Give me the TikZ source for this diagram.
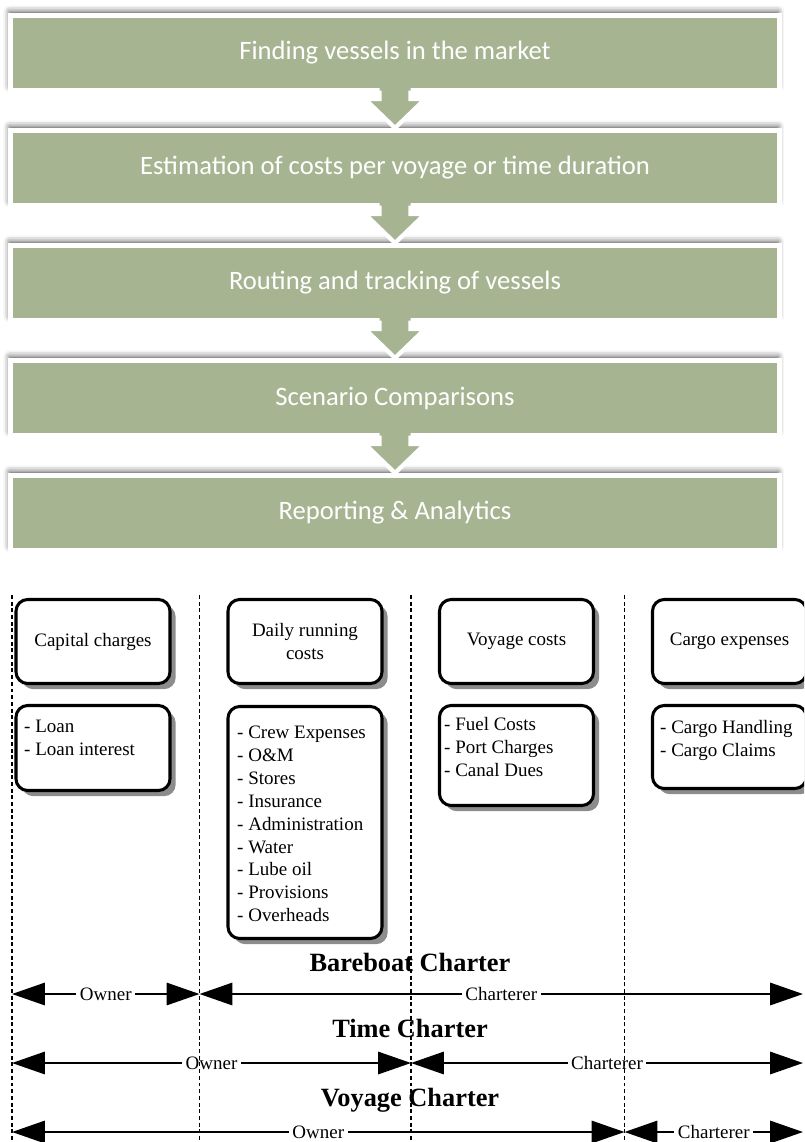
\documentclass[tikz,border=0pt]{standalone}
\usepackage{fontspec}
\setmainfont{Liberation Serif}
\newfontfamily\calibri{Carlito}
\usepackage{tikz}
\usetikzlibrary{arrows.meta,shadows,shadows.blur,calc}

\definecolor{stagegreen}{RGB}{166,180,146}

\tikzset{
  stage/.style={rectangle, fill=stagegreen, draw=white, line width=4.3pt,
    minimum width=23.07cm, minimum height=2.25cm, text=white,
    font=\calibri\fontsize{22.7}{27}\selectfont,
    blur shadow={shadow xshift=-1pt, shadow yshift=3.5pt, shadow blur radius=5pt, shadow opacity=65}},
  costhead/.style={rectangle, rounded corners=0.35cm, draw, fill=white, line width=2.6pt,
    minimum width=4.62cm, minimum height=2.52cm, align=center,
    font=\fontsize{16.2}{19.5}\selectfont,
    drop shadow={shadow xshift=0.17cm, shadow yshift=-0.17cm, fill=black!45, opacity=1}},
  costlist/.style={costhead},
  listtext/.style={anchor=north west, inner sep=0pt, align=left,
    font=\fontsize{16.2}{19.5}\selectfont},
  chartertitle/.style={font=\bfseries\fontsize{22.5}{26}\selectfont},
  party/.style={line width=1.8pt,
    {Triangle[length=28pt,width=19pt]}-{Triangle[length=28pt,width=19pt]}},
  partylabel/.style={fill=white, inner xsep=3pt, inner ysep=1pt,
    font=\fontsize{16.2}{19.5}\selectfont},
  divider/.style={line width=1.5pt, dash pattern=on 3.4pt off 2.3pt}
}

% green arrow between two stages
\newcommand{\stagearrow}[2]{%
  \fill[stagegreen] ($(#1.south)+(-15.5,-7)$) -- ($(#1.south)+(-15.5,6)$) -- ($(#1.south)+(-30,6)$)
    -- (#2.north) -- ($(#1.south)+(30,6)$) -- ($(#1.south)+(15.5,6)$) -- ($(#1.south)+(15.5,-7)$) -- cycle;
  \draw[white, line width=3.6pt, line join=miter] ($(#1.south)+(-15.5,-2.5)$) -- ($(#1.south)+(-15.5,6)$)
    -- ($(#1.south)+(-30,6)$) -- (#2.north) -- ($(#1.south)+(30,6)$) -- ($(#1.south)+(15.5,6)$)
    -- ($(#1.south)+(15.5,-2.5)$);}

\begin{document}
\begin{tikzpicture}[x=0.03cm,y=-0.03cm]
    \useasboundingbox (0,0) rectangle (804,1142);
    \clip (0,0) rectangle (804,1142);

    % process steps
    \node[stage] (find) at (395,53) {Finding vessels in the market};
    \node[stage] (estimate) at (395,168) {Estimation of costs per voyage or time duration};
    \node[stage] (route) at (395,283) {Routing and tracking of vessels};
    \node[stage] (compare) at (395,398) {Scenario Comparisons};
    \node[stage] (report) at (395,513) {Reporting \& Analytics};

    \stagearrow{find}{estimate}
    \stagearrow{estimate}{route}
    \stagearrow{route}{compare}
    \stagearrow{compare}{report}

    % cost groups
    \node[costhead] (capital) at (93,641.5) {Capital charges};
    \node[costhead] (running) at (305,641.5) {Daily running\\costs};
    \node[costhead] (voyage) at (516.5,641.5) {Voyage costs};
    \node[costhead] (cargo) at (729.5,641.5) {Cargo expenses};

    \node[costlist, minimum height=2.55cm] (capitalbox) at (93,748) {};
    \node[costlist, minimum height=6.96cm] (runningbox) at (305,822.5) {};
    \node[costlist, minimum height=3.0cm] (voyagebox) at (516.5,755.5) {};
    \node[costlist, minimum height=2.49cm] (cargobox) at (729.5,747) {};

    \node[listtext] (capitallist) at (24,720) {- Loan\\- Loan interest};
    \node[listtext] (runninglist) at (237,726) {- Crew Expenses\\- O\&M\\- Stores\\- Insurance\\- Administration\\- Water\\- Lube oil\\- Provisions\\- Overheads};
    \node[listtext] (voyagelist) at (444,717) {- Fuel Costs\\- Port Charges\\- Canal Dues};
    \node[listtext] (cargolist) at (660,720) {- Cargo Handling\\- Cargo Claims};

    % charter types
    \node[chartertitle] (bareboat) at (410,962) {Bareboat Charter};
    \node[chartertitle] (timecharter) at (410,1028) {Time Charter};
    \node[chartertitle] (voyagecharter) at (410,1100) {Voyage Charter};

    \coordinate (d1) at (12,595);
    \coordinate (d2) at (199.5,595);
    \coordinate (d3) at (411,595);
    \coordinate (d4) at (624.5,595);
    \coordinate (edge) at (803,595);
    \coordinate (bb) at (0,994);
    \coordinate (tc) at (0,1063);
    \coordinate (vc) at (0,1132);
    \coordinate (base) at (0,1142);

    \draw[party] (d1 |- bb) -- node[partylabel] {Owner} (d2 |- bb);
    \draw[party] (d2 |- bb) -- node[partylabel] {Charterer} (edge |- bb);
    \draw[party] (d1 |- tc) -- node[partylabel] {Owner} (d3 |- tc);
    \draw[party] (d3 |- tc) -- node[partylabel] {Charterer} (edge |- tc);
    \draw[party] (d1 |- vc) -- node[partylabel] {Owner} (d4 |- vc);
    \draw[party] (d4 |- vc) -- node[partylabel] {Charterer} (edge |- vc);

    \draw[divider] (d1) -- (d1 |- base);
    \draw[divider] (d2) -- (d2 |- base);
    \draw[divider] (d3) -- (d3 |- base);
    \draw[divider] (d4) -- (d4 |- base);
\end{tikzpicture}
\end{document}
